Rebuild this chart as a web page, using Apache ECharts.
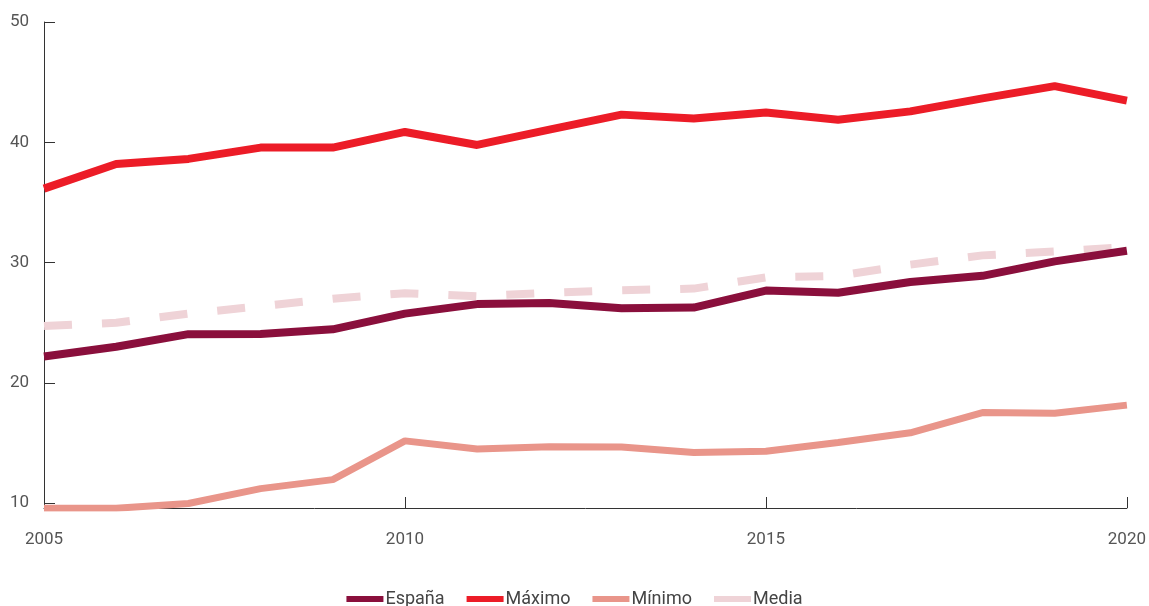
<!DOCTYPE html>
<html>
<head>
<meta charset="utf-8">
<script src="https://cdn.jsdelivr.net/npm/echarts@6/dist/echarts.min.js"></script>
<style>
html,body{margin:0;padding:0;background:#fff;}
#chart{width:1149px;height:606px;}
</style>
</head>
<body>
<div id="chart"></div>
<script>
const years = ['2005','2006','2007','2008','2009','2010','2011','2012','2013','2014','2015','2016','2017','2018','2019','2020'];
const espana = [22.2, 23.0, 24.05, 24.07, 24.45, 25.76, 26.55, 26.65, 26.2, 26.26, 27.67, 27.5, 28.38, 28.9, 30.1, 30.98];
const maximo = [36.15, 38.2, 38.62, 39.56, 39.56, 40.86, 39.78, 41.05, 42.3, 41.97, 42.47, 41.87, 42.57, 43.65, 44.67, 43.47];
const minimo = [9.57, 9.57, 9.97, 11.21, 11.96, 15.18, 14.5, 14.7, 14.68, 14.21, 14.31, 15.04, 15.85, 17.53, 17.48, 18.15];
const media = [24.73, 25.0, 25.76, 26.37, 27.0, 27.45, 27.2, 27.5, 27.7, 27.84, 28.77, 28.9, 29.83, 30.6, 30.92, 31.3];
const yTicks = [10, 20, 30, 40, 50];

const chart = echarts.init(document.getElementById('chart'), null, {renderer: 'canvas'});
const font = 'Roboto, "Noto Sans", sans-serif';
chart.setOption({
  animation: false,
  backgroundColor: '#ffffff',
  grid: {left: 44, right: 17, top: 22, bottom: 98, containLabel: false},
  legend: {
    left: 'center',
    top: 585,
    itemWidth: 37,
    itemHeight: 6,
    itemGap: 22,
    icon: 'rect',
    textStyle: {fontFamily: font, fontSize: 18, color: '#444', padding: [0, 0, 0, -3]},
    data: [
      {name: 'España', itemStyle: {color: '#8A0F3C'}},
      {name: 'Máximo', itemStyle: {color: '#EC1C27'}},
      {name: 'Mínimo', itemStyle: {color: '#E9958A'}},
      {name: 'Media', itemStyle: {color: '#EFD3D7'}}
    ]
  },
  xAxis: {
    type: 'category',
    data: years,
    boundaryGap: false,
    axisLine: {lineStyle: {color: '#333', width: 1}},
    axisTick: {inside: true, length: 11, interval: 4, lineStyle: {color: '#333'}},
    axisLabel: {interval: 4, margin: 23, fontFamily: font, fontSize: 17, color: '#555'},
    splitLine: {show: false}
  },
  yAxis: {
    type: 'value',
    min: 9.6,
    max: 50,
    axisLine: {show: true, lineStyle: {color: '#333', width: 1}},
    axisTick: {show: true, inside: true, length: 11, customValues: yTicks, lineStyle: {color: '#333'}},
    axisLabel: {customValues: yTicks, margin: 15, fontFamily: font, fontSize: 17, color: '#555'},
    splitLine: {show: false}
  },
  series: [
    {name: 'Media', type: 'line', data: media, showSymbol: false, symbol: 'none', z: 1,
     lineStyle: {color: '#EFD3D7', width: 8, type: [28, 30], cap: 'butt'}, itemStyle: {color: '#EFD3D7'}},
    {name: 'Mínimo', type: 'line', data: minimo, showSymbol: false, symbol: 'none', z: 2,
     lineStyle: {color: '#E9958A', width: 7}, itemStyle: {color: '#E9958A'}},
    {name: 'España', type: 'line', data: espana, showSymbol: false, symbol: 'none', z: 3,
     lineStyle: {color: '#8A0F3C', width: 8}, itemStyle: {color: '#8A0F3C'}},
    {name: 'Máximo', type: 'line', data: maximo, showSymbol: false, symbol: 'none', z: 4,
     lineStyle: {color: '#EC1C27', width: 8}, itemStyle: {color: '#EC1C27'}}
  ]
});
</script>
</body>
</html>
